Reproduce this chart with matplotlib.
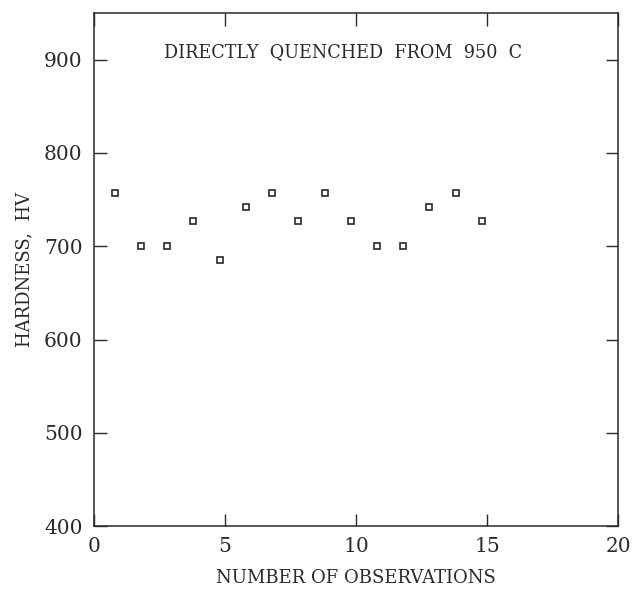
import matplotlib
matplotlib.use("Agg")
import matplotlib.pyplot as plt
import numpy as np

# Observation number (marker x position) and Vickers hardness
observations = [0.8, 1.8, 2.8, 3.8, 4.8, 5.8, 6.8, 7.8, 8.8, 9.8, 10.8, 11.8, 12.8, 13.8, 14.8]
hardness = [757, 700, 700, 727, 685, 742, 757, 727, 757, 727, 700, 700, 742, 757, 727]

x_ticks = [0, 5, 10, 15, 20]
y_ticks = [400, 500, 600, 700, 800, 900]

plt.rcParams["font.family"] = ["DejaVu Serif"]
ink = "#2a2a2a"

fig = plt.figure(figsize=(6.34, 5.90), dpi=100)
ax = fig.add_axes([0.148, 0.108, 0.827, 0.870])

ax.plot(observations, hardness, linestyle="none", marker="s", markersize=5,
        markerfacecolor="none", markeredgecolor=ink, markeredgewidth=1.2)

ax.set_xlim(0, 20)
ax.set_ylim(400, 950)
ax.set_xticks(x_ticks)
ax.set_yticks(y_ticks)

ax.tick_params(direction="in", length=9, width=1, colors=ink, labelsize=14.5,
               top=True, right=True, pad=8)
for s in ax.spines.values():
    s.set_color(ink)
    s.set_linewidth(1.1)

ax.set_xlabel("NUMBER OF OBSERVATIONS", fontsize=13, color=ink, labelpad=9)
ax.set_ylabel("HARDNESS,  HV", fontsize=13, color=ink, labelpad=8)
ax.text(0.475, 0.924, "DIRECTLY  QUENCHED  FROM  950  C", transform=ax.transAxes,
        ha="center", va="center", fontsize=12.7, color=ink)

fig.savefig("out.png", dpi=100)
